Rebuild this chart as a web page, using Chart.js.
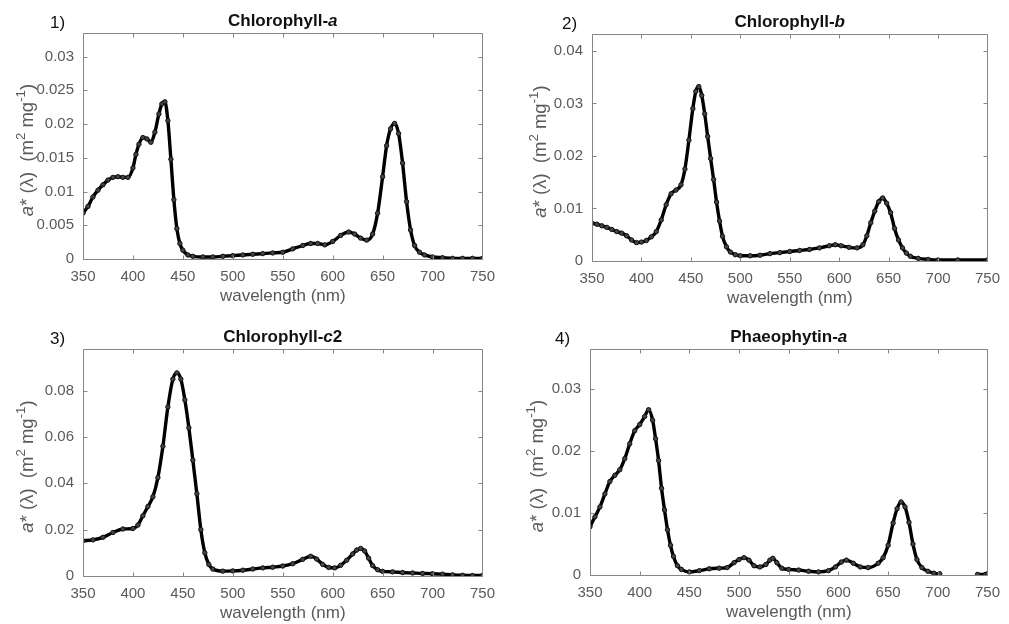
<!DOCTYPE html>
<html lang="en">
<head>
  <meta charset="UTF-8" />
  <title>Specific absorption spectra</title>
  <script src="https://cdn.jsdelivr.net/npm/chart.js"></script>
  <style>
    * {
      box-sizing: border-box;
    }
    body {
      margin: 0;
      background: #ffffff;
      width: 1009px;
      height: 624px;
      overflow: hidden;
      position: relative;
      font-family: "Liberation Sans", Arial, sans-serif;
    }
    canvas {
      position: absolute;
    }
  </style>
</head>
<body>
  <canvas id="chlA" width="504" height="312" style="left:0;top:0"></canvas>
  <canvas id="chlB" width="504" height="312" style="left:505px;top:0"></canvas>
  <canvas id="chlC2" width="504" height="312" style="left:0;top:312px"></canvas>
  <canvas id="phaeoA" width="504" height="312" style="left:505px;top:312px"></canvas>

<script>
  // wavelength ticks shared by all four panels
  const xTicks = [350, 400, 450, 500, 550, 600, 650, 700, 750];

  // 1) chlorophyll-a
  const wlChlA = [350, 355, 360, 365, 370, 375, 380, 385, 390, 395, 400, 403, 406, 410, 414, 418, 422, 426, 429, 432,
    435, 438, 441, 444, 447, 450, 455, 460, 470, 480, 490, 500, 510, 520, 530, 540, 550, 560, 570, 578,
    585, 592, 600, 608, 616, 622, 628, 634, 640, 645, 650, 654, 658, 662, 666, 670, 674, 678, 682, 687,
    692, 700, 710, 720, 730, 740, 750];
  const absChlA = [0.0068, 0.0078, 0.0092, 0.0102, 0.0110, 0.0117, 0.0121, 0.0122, 0.0121, 0.0121, 0.0135, 0.0155, 0.0170, 0.0180, 0.0178, 0.0173, 0.0188, 0.0215, 0.0230, 0.0233,
    0.0205, 0.0148, 0.0088, 0.0045, 0.0023, 0.0013, 0.0006, 0.0004, 0.0003, 0.0003, 0.0004, 0.0005, 0.0006, 0.0007, 0.0008, 0.0009, 0.0010, 0.0015, 0.0020, 0.0023,
    0.0023, 0.0021, 0.0026, 0.0035, 0.0040, 0.0037, 0.0031, 0.0028, 0.0037, 0.0068, 0.0122, 0.0168, 0.0193, 0.0201, 0.0186, 0.0142, 0.0085, 0.0043, 0.0020, 0.0010,
    0.0006, 0.0003, 0.0002, 0.0001, 0.0001, 0.0001, 0.0001];
  const yTicksChlA = [0, 0.005, 0.01, 0.015, 0.02, 0.025, 0.03];

  // 2) chlorophyll-b
  const wlChlB = [350, 355, 360, 365, 370, 375, 380, 385, 390, 395, 400, 405, 410, 415, 420, 425, 430, 435, 440, 444,
    448, 452, 455, 458, 461, 464, 467, 470, 473, 476, 479, 482, 486, 490, 495, 500, 510, 520, 530, 540,
    550, 560, 570, 580, 590, 596, 602, 610, 618, 624, 628, 632, 636, 640, 644, 648, 652, 656, 660, 664,
    668, 672, 680, 690, 700, 720, 750];
  const absChlB = [0.0072, 0.0070, 0.0067, 0.0064, 0.0060, 0.0056, 0.0053, 0.0048, 0.0040, 0.0035, 0.0036, 0.0039, 0.0046, 0.0056, 0.0078, 0.0107, 0.0128, 0.0135, 0.0145, 0.0175,
    0.0230, 0.0290, 0.0323, 0.0332, 0.0315, 0.0280, 0.0237, 0.0195, 0.0155, 0.0112, 0.0076, 0.0047, 0.0027, 0.0017, 0.0012, 0.0010, 0.0010, 0.0011, 0.0014, 0.0016,
    0.0018, 0.0020, 0.0022, 0.0025, 0.0029, 0.0031, 0.0029, 0.0026, 0.0025, 0.0031, 0.0048, 0.0073, 0.0095, 0.0113, 0.0120, 0.0110, 0.0092, 0.0062, 0.0040, 0.0025,
    0.0015, 0.0009, 0.0005, 0.0003, 0.0002, 0.0002, 0.0002];
  const yTicksChlB = [0, 0.01, 0.02, 0.03, 0.04];

  // 3) chlorophyll-c2
  const wlChlC2 = [350, 360, 370, 380, 390, 400, 405, 410, 415, 420, 425, 430, 435, 440, 444, 448, 452, 456, 460, 464,
    468, 472, 476, 480, 490, 500, 510, 520, 530, 540, 550, 560, 570, 578, 584, 590, 596, 602, 608, 614,
    620, 624, 628, 632, 636, 640, 645, 650, 660, 670, 680, 690, 700, 710, 720, 730, 740, 750];
  const absChlC2 = [0.0152, 0.0156, 0.0167, 0.0188, 0.0203, 0.0205, 0.0220, 0.0260, 0.0300, 0.0342, 0.0425, 0.0560, 0.0730, 0.0850, 0.0877, 0.0850, 0.0760, 0.0640, 0.0500, 0.0355,
    0.0200, 0.0100, 0.0050, 0.0030, 0.0021, 0.0022, 0.0025, 0.0030, 0.0035, 0.0038, 0.0043, 0.0053, 0.0072, 0.0085, 0.0073, 0.0050, 0.0037, 0.0035, 0.0046, 0.0068,
    0.0095, 0.0112, 0.0119, 0.0108, 0.0077, 0.0045, 0.0027, 0.0020, 0.0018, 0.0015, 0.0013, 0.0011, 0.0010, 0.0008, 0.0005, 0.0003, 0.0002, 0.0002];
  const yTicksChlC2 = [0, 0.02, 0.04, 0.06, 0.08];

  // 4) phaeophytin-a (no readings between ~702 and ~740 nm)
  const wlPhaeoA = [350, 355, 360, 365, 370, 375, 380, 385, 390, 395, 400, 405, 409, 413, 416, 419, 422, 425, 428, 431,
    434, 438, 442, 450, 460, 470, 480, 488, 495, 500, 505, 510, 515, 521, 527, 531, 534, 538, 543, 550,
    560, 570, 580, 590, 597, 603, 608, 615, 622, 630, 640, 645, 650, 655, 659, 663, 667, 671, 675, 679,
    684, 690, 696, 702, 720, 740, 748, 750];
  const absPhaeoA = [0.0078, 0.0094, 0.0110, 0.0131, 0.0151, 0.0161, 0.0170, 0.0188, 0.0212, 0.0233, 0.0243, 0.0256, 0.0267, 0.0250, 0.0220, 0.0185, 0.0140, 0.0105, 0.0073, 0.0048,
    0.0030, 0.0015, 0.0009, 0.0005, 0.0007, 0.0010, 0.0011, 0.0012, 0.0020, 0.0025, 0.0028, 0.0024, 0.0015, 0.0013, 0.0017, 0.0024, 0.0027, 0.0020, 0.0011, 0.0009,
    0.0008, 0.0006, 0.0005, 0.0007, 0.0013, 0.0021, 0.0024, 0.0019, 0.0013, 0.0012, 0.0019, 0.0028, 0.0048, 0.0084, 0.0107, 0.0118, 0.0110, 0.0085, 0.0050, 0.0025,
    0.0012, 0.0006, 0.0003, 0.0002, null, 0.0001, 0.0001, 0.0002];
  const yTicksPhaeoA = [0, 0.01, 0.02, 0.03];

  const FONT = '"Liberation Sans", Arial, sans-serif';
  const TEXT_GREY = '#5a5a5a';
  const BOX_GREY = '#858585';

  // draws a run of text pieces (italic / superscript) as one line, centred on x
  function drawRich(ctx, parts, x, y, size, bold) {
    const fontFor = p => {
      const s = p.sup ? size * 0.72 : size;
      return (p.italic ? 'italic ' : '') + (bold ? 'bold ' : '') + s + 'px ' + FONT;
    };
    let total = 0;
    parts.forEach(p => { ctx.font = fontFor(p); total += ctx.measureText(p.t).width; });
    let cx = x - total / 2;
    ctx.textAlign = 'left';
    parts.forEach(p => {
      ctx.font = fontFor(p);
      ctx.fillText(p.t, cx, p.sup ? y - size * 0.42 : y);
      cx += ctx.measureText(p.t).width;
    });
  }

  const yLabelParts = [
    {t: 'a', italic: true}, {t: '* (\u03bb)  (m'}, {t: '2', sup: true},
    {t: ' mg'}, {t: '-1', sup: true}, {t: ')'}
  ];

  // box with inward ticks on all sides, panel number, title and axis titles
  const frame = {
    id: 'frame',
    afterDraw(chart, args, o) {
      const {ctx, chartArea: a, scales: {x, y}} = chart;
      const L = Math.round(a.left) + 0.5, R = Math.round(a.right) + 0.5;
      const T = Math.round(a.top) + 0.5, B = Math.round(a.bottom) + 0.5;
      ctx.save();
      ctx.strokeStyle = BOX_GREY;
      ctx.lineWidth = 1;
      ctx.beginPath();
      ctx.rect(L, T, R - L, B - T);
      x.ticks.forEach(t => {
        const px = Math.round(x.getPixelForValue(t.value)) + 0.5;
        ctx.moveTo(px, B); ctx.lineTo(px, B - 4);
        ctx.moveTo(px, T); ctx.lineTo(px, T + 4);
      });
      y.ticks.forEach(t => {
        const py = Math.round(y.getPixelForValue(t.value)) + 0.5;
        ctx.moveTo(L, py); ctx.lineTo(L + 4, py);
        ctx.moveTo(R, py); ctx.lineTo(R - 4, py);
      });
      ctx.stroke();

      ctx.fillStyle = '#111111';
      ctx.textBaseline = 'middle';
      ctx.font = '17px ' + FONT;
      ctx.textAlign = 'left';
      ctx.fillText(o.num, a.left + o.numDx, a.top - 10);
      drawRich(ctx, o.title, (a.left + a.right) / 2, a.top - 12, 17, true);

      ctx.fillStyle = TEXT_GREY;
      drawRich(ctx, [{t: 'wavelength (nm)'}], (a.left + a.right) / 2, a.bottom + 37, 17, false);

      ctx.save();
      ctx.translate(a.left - o.labelGap, (a.top + a.bottom) / 2 + 4);
      ctx.rotate(-Math.PI / 2);
      ctx.textBaseline = 'alphabetic';
      drawRich(ctx, yLabelParts, 0, 0, 18.5, false);
      ctx.restore();
      ctx.restore();
    }
  };

  function makePanel(id, wl, values, yMax, yTicks, area, decor) {
    const H = 312;
    const points = wl.map((w, i) => ({x: w, y: values[i]}));
    new Chart(document.getElementById(id), {
      type: 'line',
      data: {
        datasets: [{
          data: points,
          borderColor: '#000000',
          borderWidth: 3.4,
          pointRadius: 2.2,
          pointBorderWidth: 1,
          pointBackgroundColor: '#444444',
          pointBorderColor: '#111111',
          cubicInterpolationMode: 'monotone',
          spanGaps: false
        }]
      },
      options: {
        responsive: false,
        animation: false,
        events: [],
        layout: {padding: {left: 0, top: area.top, right: area.right, bottom: 0}},
        scales: {
          x: {
            type: 'linear',
            min: 350,
            max: 750,
            grid: {display: false, drawTicks: false},
            border: {display: false},
            afterBuildTicks: s => { s.ticks = xTicks.map(v => ({value: v})); },
            afterFit: s => { s.height = H - area.bottom; },
            ticks: {
              padding: 9,
              color: TEXT_GREY,
              font: {family: FONT, size: 15},
              maxRotation: 0,
              callback: v => String(v)
            }
          },
          y: {
            type: 'linear',
            min: 0,
            max: yMax,
            grid: {display: false, drawTicks: false},
            border: {display: false},
            afterBuildTicks: s => { s.ticks = yTicks.map(v => ({value: v})); },
            afterFit: s => { s.width = area.left; },
            ticks: {
              padding: 9,
              color: TEXT_GREY,
              font: {family: FONT, size: 15},
              callback: v => String(v)
            }
          }
        },
        plugins: {
          legend: {display: false},
          tooltip: {enabled: false},
          frame: decor
        }
      },
      plugins: [frame]
    });
  }

  makePanel('chlA', wlChlA, absChlA, 0.0335, yTicksChlA,
    {left: 83, top: 33, right: 17, bottom: 259},
    {num: '1)', numDx: -33, labelGap: 50, title: [{t: 'Chlorophyll-'}, {t: 'a', italic: true}]});

  makePanel('chlB', wlChlB, absChlB, 0.0432, yTicksChlB,
    {left: 87, top: 34, right: 13, bottom: 261},
    {num: '2)', numDx: -30, labelGap: 46, title: [{t: 'Chlorophyll-'}, {t: 'b', italic: true}]});

  makePanel('chlC2', wlChlC2, absChlC2, 0.098, yTicksChlC2,
    {left: 83, top: 37, right: 18, bottom: 264},
    {num: '3)', numDx: -33, labelGap: 50, title: [{t: 'Chlorophyll-'}, {t: 'c', italic: true}, {t: '2'}]});

  makePanel('phaeoA', wlPhaeoA, absPhaeoA, 0.0365, yTicksPhaeoA,
    {left: 85, top: 37, right: 15, bottom: 263},
    {num: '4)', numDx: -35, labelGap: 47, title: [{t: 'Phaeophytin-'}, {t: 'a', italic: true}]});
</script>
</body>
</html>
